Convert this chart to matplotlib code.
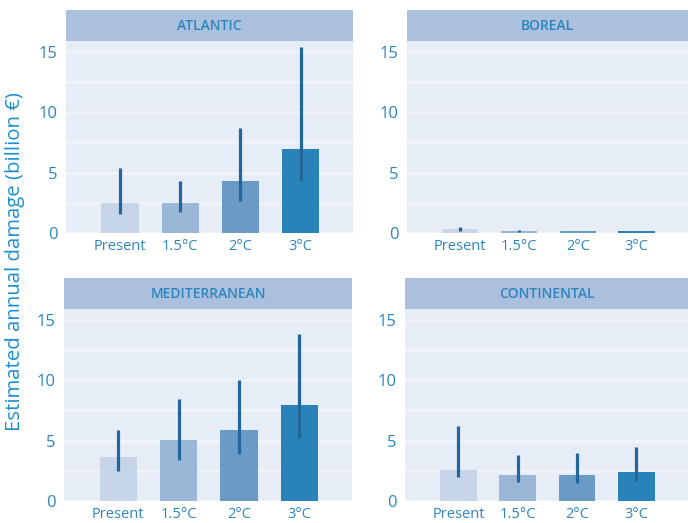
import matplotlib
matplotlib.use("Agg")
import matplotlib.pyplot as plt
import numpy as np

plt.rcParams["font.family"] = ["Open Sans", "DejaVu Sans"]

# scenarios on the x axis
scenarios = ["Present", "1.5°C", "2°C", "3°C"]

# estimated annual damage (billion euro), bar heights
atlantic = [2.47, 2.47, 4.3, 6.97]
boreal = [0.3, 0.13, 0.15, 0.17]
mediterranean = [3.66, 5.07, 5.92, 7.94]
continental = [2.53, 2.12, 2.12, 2.37]

# uncertainty range (low, high)
atlantic_lo = [1.58, 1.72, 2.64, 4.3]
atlantic_hi = [5.37, 4.3, 8.72, 15.4]
boreal_lo = [0.2, 0.08, 0.15, 0.17]
boreal_hi = [0.52, 0.27, 0.15, 0.17]
mediterranean_lo = [2.49, 3.41, 3.91, 5.25]
mediterranean_hi = [5.92, 8.44, 10.03, 13.8]
continental_lo = [1.98, 1.56, 1.48, 1.62]
continental_hi = [6.22, 3.79, 3.96, 4.46]

bar_colors = ["#c6d5e8", "#9ab7d8", "#6a9bc6", "#2a83b8"]
err_color = "#22669c"
bg = "#e7edf6"
grid_c = "#f1f4f9"
strip_bg = "#aac0dd"
txt = "#2d85bf"

W, H = 688, 523
fig = plt.figure(figsize=(W / 100, H / 100), dpi=100)


def panel(x0, x1, ytop, ybot, stop, title, vals, lo, hi):
    ax = fig.add_axes([x0 / W, 1 - ybot / H, (x1 - x0) / W, (ybot - ytop) / H])
    ax.set_facecolor(bg)
    x = np.arange(len(scenarios))
    ax.bar(x, vals, width=0.62, color=bar_colors, zorder=2)
    ax.vlines(x, lo, hi, color=err_color, lw=2.3, zorder=3)
    ax.set_xlim(-0.9, 3.87)
    ax.set_ylim(0, 15.9)
    ax.set_yticks([0, 5, 10, 15])
    ax.set_yticks([2.5, 7.5, 12.5], minor=True)
    ax.grid(axis="y", which="both", color=grid_c, lw=2, zorder=0)
    ax.set_axisbelow(True)
    ax.set_xticks(x)
    ax.set_xticklabels(scenarios)
    for s in ax.spines.values():
        s.set_visible(False)
    ax.tick_params(axis="both", which="both", length=0, colors=txt)
    ax.tick_params(axis="y", labelsize=12, pad=6)
    ax.tick_params(axis="x", labelsize=10.5, pad=4)
    # strip on top
    sx = fig.add_axes([x0 / W, 1 - ytop / H, (x1 - x0) / W, (ytop - stop) / H])
    sx.set_facecolor(strip_bg)
    sx.set_xticks([])
    sx.set_yticks([])
    for s in sx.spines.values():
        s.set_visible(False)
    sx.text(0.5, 0.5, title, ha="center", va="center", color=txt, fontsize=10,
            fontweight="semibold", transform=sx.transAxes)
    return ax


panel(66, 353, 41, 233, 10, "ATLANTIC", atlantic, atlantic_lo, atlantic_hi)
panel(407, 688, 41, 233, 10, "BOREAL", boreal, boreal_lo, boreal_hi)
panel(64, 352, 309, 501, 278, "MEDITERRANEAN", mediterranean, mediterranean_lo, mediterranean_hi)
panel(405, 688, 309, 501, 278, "CONTINENTAL", continental, continental_lo, continental_hi)

fig.text(15 / W, 1 - 262 / H, "Estimated annual damage (billion €)", rotation=90,
         ha="center", va="center", color="#1f8fd0", fontsize=14.7)

fig.savefig("out.png", dpi=100)
